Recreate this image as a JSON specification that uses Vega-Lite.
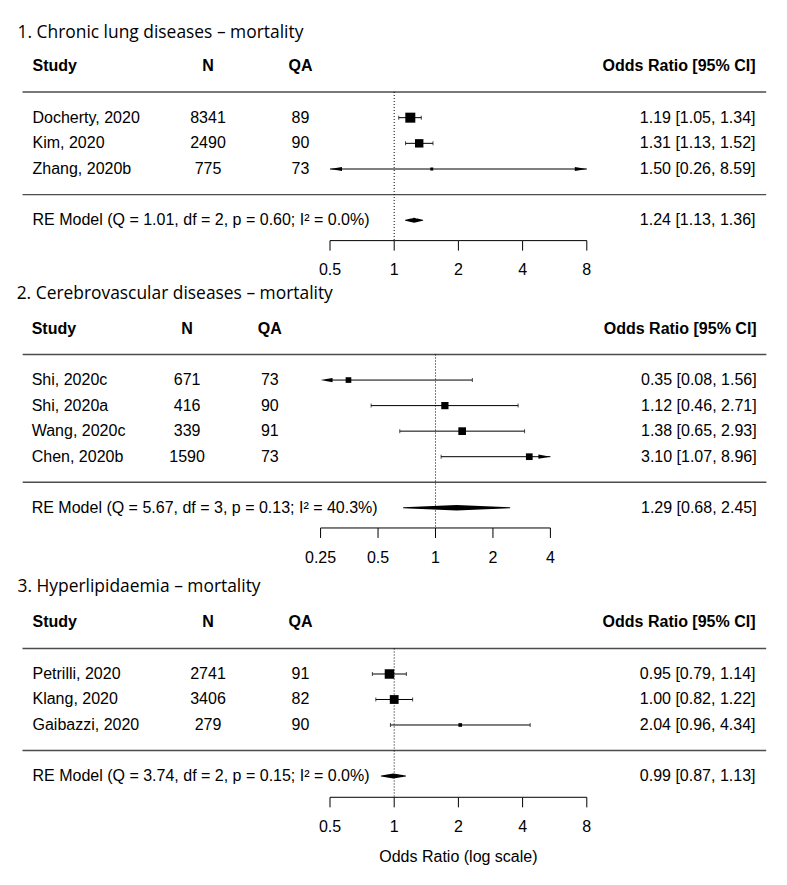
{
  "$schema": "https://vega.github.io/schema/vega-lite/v6.json",
  "background": "white",
  "padding": {"left": 16, "top": 0, "right": 0, "bottom": 0},
  "spacing": 0,
  "config": {
    "view": {"stroke": null},
    "mark": {"color": "black"},
    "text": {"font": "Liberation Sans", "fontSize": 16, "color": "black"}
  },
  "datasets": {
    "panels": [
      {"panel": 1, "title": "1. Chronic lung diseases – mortality"},
      {"panel": 2, "title": "2. Cerebrovascular diseases – mortality"},
      {"panel": 3, "title": "3. Hyperlipidaemia – mortality"}
    ],
    "studies": [
      {"panel": 1, "row": 1, "study": "Docherty, 2020", "n": "8341", "qa": "89", "or": 1.19, "lo": 1.05, "hi": 1.34, "weight": 59.4, "ci": "1.19 [1.05, 1.34]"},
      {"panel": 1, "row": 2, "study": "Kim, 2020", "n": "2490", "qa": "90", "or": 1.31, "lo": 1.13, "hi": 1.52, "weight": 40.3, "ci": "1.31 [1.13, 1.52]"},
      {"panel": 1, "row": 3, "study": "Zhang, 2020b", "n": "775", "qa": "73", "or": 1.50, "lo": 0.26, "hi": 8.59, "weight": 0.3, "ci": "1.50 [0.26, 8.59]"},
      {"panel": 2, "row": 1, "study": "Shi, 2020c", "n": "671", "qa": "73", "or": 0.35, "lo": 0.08, "hi": 1.56, "weight": 15.3, "ci": "0.35 [0.08, 1.56]"},
      {"panel": 2, "row": 2, "study": "Shi, 2020a", "n": "416", "qa": "90", "or": 1.12, "lo": 0.46, "hi": 2.71, "weight": 28.4, "ci": "1.12 [0.46, 2.71]"},
      {"panel": 2, "row": 3, "study": "Wang, 2020c", "n": "339", "qa": "91", "or": 1.38, "lo": 0.65, "hi": 2.93, "weight": 32.8, "ci": "1.38 [0.65, 2.93]"},
      {"panel": 2, "row": 4, "study": "Chen, 2020b", "n": "1590", "qa": "73", "or": 3.10, "lo": 1.07, "hi": 8.96, "weight": 23.5, "ci": "3.10 [1.07, 8.96]"},
      {"panel": 3, "row": 1, "study": "Petrilli, 2020", "n": "2741", "qa": "91", "or": 0.95, "lo": 0.79, "hi": 1.14, "weight": 52.8, "ci": "0.95 [0.79, 1.14]"},
      {"panel": 3, "row": 2, "study": "Klang, 2020", "n": "3406", "qa": "82", "or": 1.00, "lo": 0.82, "hi": 1.22, "weight": 44.9, "ci": "1.00 [0.82, 1.22]"},
      {"panel": 3, "row": 3, "study": "Gaibazzi, 2020", "n": "279", "qa": "90", "or": 2.04, "lo": 0.96, "hi": 4.34, "weight": 3.1, "ci": "2.04 [0.96, 4.34]"}
    ],
    "models": [
      {"panel": 1, "label": "RE Model (Q = 1.01, df = 2, p = 0.60; I² = 0.0%)", "est": 1.24, "lo": 1.13, "hi": 1.36, "ci": "1.24 [1.13, 1.36]"},
      {"panel": 2, "label": "RE Model (Q = 5.67, df = 3, p = 0.13; I² = 40.3%)", "est": 1.29, "lo": 0.68, "hi": 2.45, "ci": "1.29 [0.68, 2.45]"},
      {"panel": 3, "label": "RE Model (Q = 3.74, df = 2, p = 0.15; I² = 0.0%)", "est": 0.99, "lo": 0.87, "hi": 1.13, "ci": "0.99 [0.87, 1.13]"}
    ],
    "ticks": [
      {"panel": 1, "v": 0.5, "lab": "0.5"}, {"panel": 1, "v": 1, "lab": "1"}, {"panel": 1, "v": 2, "lab": "2"}, {"panel": 1, "v": 4, "lab": "4"}, {"panel": 1, "v": 8, "lab": "8"},
      {"panel": 2, "v": 0.25, "lab": "0.25"}, {"panel": 2, "v": 0.5, "lab": "0.5"}, {"panel": 2, "v": 1, "lab": "1"}, {"panel": 2, "v": 2, "lab": "2"}, {"panel": 2, "v": 4, "lab": "4"},
      {"panel": 3, "v": 0.5, "lab": "0.5"}, {"panel": 3, "v": 1, "lab": "1"}, {"panel": 3, "v": 2, "lab": "2"}, {"panel": 3, "v": 4, "lab": "4"}, {"panel": 3, "v": 8, "lab": "8"}
    ]
  },
  "vconcat": [
    {
      "width": 256.8, "height": 280,
      "layer": [
        {"data": {"name": "panels"}, "transform": [{"filter": "datum.panel == 1"}],
         "mark": {"type": "text", "align": "left", "font": "Open Sans", "fontSize": 17.4},
         "encoding": {
           "x": {"datum": 0.017127, "type": "quantitative", "scale": {"type": "log", "base": 2, "domain": [0.5, 8], "nice": false}, "axis": null},
           "y": {"datum": -2.3, "type": "quantitative", "scale": {"domain": [-3.584, 7.324], "nice": false, "zero": false, "reverse": true}, "axis": null},
           "text": {"field": "title", "type": "nominal"}}},
        {"data": {"name": "panels"}, "transform": [{"filter": "datum.panel == 1"}],
         "mark": {"type": "text", "align": "left", "fontWeight": "bold"},
         "encoding": {"x": {"datum": 0.020137, "type": "quantitative"}, "y": {"datum": -1, "type": "quantitative"}, "text": {"value": "Study"}}},
        {"data": {"name": "panels"}, "transform": [{"filter": "datum.panel == 1"}],
         "mark": {"type": "text", "align": "center", "fontWeight": "bold"},
         "encoding": {"x": {"datum": 0.13394, "type": "quantitative"}, "y": {"datum": -1, "type": "quantitative"}, "text": {"value": "N"}}},
        {"data": {"name": "panels"}, "transform": [{"filter": "datum.panel == 1"}],
         "mark": {"type": "text", "align": "center", "fontWeight": "bold"},
         "encoding": {"x": {"datum": 0.36363, "type": "quantitative"}, "y": {"datum": -1, "type": "quantitative"}, "text": {"value": "QA"}}},
        {"data": {"name": "panels"}, "transform": [{"filter": "datum.panel == 1"}],
         "mark": {"type": "text", "align": "right", "fontWeight": "bold"},
         "encoding": {"x": {"datum": 49.44, "type": "quantitative"}, "y": {"datum": -1, "type": "quantitative"}, "text": {"value": "Odds Ratio [95% CI]"}}},
        {"data": {"name": "panels"}, "transform": [{"filter": "datum.panel == 1"}],
         "mark": {"type": "tick", "orient": "horizontal", "size": 743.7, "thickness": 1.3},
         "encoding": {"x": {"datum": 1.0016, "type": "quantitative"}, "y": {"datum": 0, "type": "quantitative"}}},
        {"data": {"name": "panels"}, "transform": [{"filter": "datum.panel == 1"}],
         "mark": {"type": "tick", "orient": "horizontal", "size": 743.7, "thickness": 1.3},
         "encoding": {"x": {"datum": 1.0016, "type": "quantitative"}, "y": {"datum": 4, "type": "quantitative"}}},
        {"data": {"name": "panels"}, "transform": [{"filter": "datum.panel == 1"}],
         "mark": {"type": "rule", "strokeWidth": 1, "strokeDash": [1, 2]},
         "encoding": {"x": {"datum": 1, "type": "quantitative"}, "y": {"datum": 0, "type": "quantitative"}, "y2": {"datum": 5.79}}},
        {"data": {"name": "studies"}, "transform": [{"filter": "datum.panel == 1"}],
         "mark": {"type": "rule", "strokeWidth": 1, "clip": true},
         "encoding": {"x": {"field": "lo", "type": "quantitative"}, "x2": {"field": "hi"}, "y": {"field": "row", "type": "quantitative"}}},
        {"data": {"name": "studies"}, "transform": [{"filter": "datum.panel == 1 && datum.lo >= 0.5"}],
         "mark": {"type": "tick", "orient": "vertical", "size": 4, "thickness": 1},
         "encoding": {"x": {"field": "lo", "type": "quantitative"}, "y": {"field": "row", "type": "quantitative"}}},
        {"data": {"name": "studies"}, "transform": [{"filter": "datum.panel == 1 && datum.hi <= 8"}],
         "mark": {"type": "tick", "orient": "vertical", "size": 4, "thickness": 1},
         "encoding": {"x": {"field": "hi", "type": "quantitative"}, "y": {"field": "row", "type": "quantitative"}}},
        {"data": {"name": "studies"}, "transform": [{"filter": "datum.panel == 1 && datum.lo < 0.5"}],
         "mark": {"type": "point", "filled": true, "opacity": 1, "shape": "M0,0L2,-0.35L2,0.35Z", "size": 144},
         "encoding": {"x": {"datum": 0.5, "type": "quantitative"}, "y": {"field": "row", "type": "quantitative"}}},
        {"data": {"name": "studies"}, "transform": [{"filter": "datum.panel == 1 && datum.hi > 8"}],
         "mark": {"type": "point", "filled": true, "opacity": 1, "shape": "M0,0L-2,-0.35L-2,0.35Z", "size": 144},
         "encoding": {"x": {"datum": 8, "type": "quantitative"}, "y": {"field": "row", "type": "quantitative"}}},
        {"data": {"name": "studies"}, "transform": [{"filter": "datum.panel == 1"}],
         "mark": {"type": "square", "filled": true, "opacity": 1},
         "encoding": {"x": {"field": "or", "type": "quantitative"}, "y": {"field": "row", "type": "quantitative"},
           "size": {"field": "weight", "type": "quantitative", "scale": {"domain": [0.3, 59.4], "range": [9, 100], "zero": false}, "legend": null}}},
        {"data": {"name": "models"}, "transform": [{"filter": "datum.panel == 1"}, {"fold": ["lo", "est", "hi"]}],
         "mark": {"type": "trail"},
         "encoding": {"x": {"field": "value", "type": "quantitative"}, "y": {"datum": 5, "type": "quantitative"},
           "size": {"condition": {"test": "datum.key === 'est'", "value": 5}, "value": 0},
           "order": {"field": "value", "type": "quantitative"}}},
        {"data": {"name": "studies"}, "transform": [{"filter": "datum.panel == 1"}],
         "mark": {"type": "text", "align": "left"},
         "encoding": {"x": {"datum": 0.020137, "type": "quantitative"}, "y": {"field": "row", "type": "quantitative"}, "text": {"field": "study", "type": "nominal"}}},
        {"data": {"name": "studies"}, "transform": [{"filter": "datum.panel == 1"}],
         "mark": {"type": "text", "align": "center"},
         "encoding": {"x": {"datum": 0.13394, "type": "quantitative"}, "y": {"field": "row", "type": "quantitative"}, "text": {"field": "n", "type": "nominal"}}},
        {"data": {"name": "studies"}, "transform": [{"filter": "datum.panel == 1"}],
         "mark": {"type": "text", "align": "center"},
         "encoding": {"x": {"datum": 0.36363, "type": "quantitative"}, "y": {"field": "row", "type": "quantitative"}, "text": {"field": "qa", "type": "nominal"}}},
        {"data": {"name": "studies"}, "transform": [{"filter": "datum.panel == 1"}],
         "mark": {"type": "text", "align": "right"},
         "encoding": {"x": {"datum": 49.44, "type": "quantitative"}, "y": {"field": "row", "type": "quantitative"}, "text": {"field": "ci", "type": "nominal"}}},
        {"data": {"name": "models"}, "transform": [{"filter": "datum.panel == 1"}],
         "mark": {"type": "text", "align": "left"},
         "encoding": {"x": {"datum": 0.020137, "type": "quantitative"}, "y": {"datum": 5, "type": "quantitative"}, "text": {"field": "label", "type": "nominal"}}},
        {"data": {"name": "models"}, "transform": [{"filter": "datum.panel == 1"}],
         "mark": {"type": "text", "align": "right"},
         "encoding": {"x": {"datum": 49.44, "type": "quantitative"}, "y": {"datum": 5, "type": "quantitative"}, "text": {"field": "ci", "type": "nominal"}}},
        {"data": {"name": "ticks"}, "transform": [{"filter": "datum.panel == 1"}],
         "mark": {"type": "line", "strokeWidth": 1},
         "encoding": {"x": {"field": "v", "type": "quantitative"}, "y": {"datum": 5.79, "type": "quantitative"}}},
        {"data": {"name": "ticks"}, "transform": [{"filter": "datum.panel == 1"}],
         "mark": {"type": "rule", "strokeWidth": 1},
         "encoding": {"x": {"field": "v", "type": "quantitative"}, "y": {"datum": 5.79, "type": "quantitative"}, "y2": {"datum": 6.18}}},
        {"data": {"name": "ticks"}, "transform": [{"filter": "datum.panel == 1"}],
         "mark": {"type": "text", "align": "center"},
         "encoding": {"x": {"field": "v", "type": "quantitative"}, "y": {"datum": 6.93, "type": "quantitative"}, "text": {"field": "lab", "type": "nominal"}}}
      ]
    },
    {
      "width": 220.4, "height": 292,
      "layer": [
        {"data": {"name": "panels"}, "transform": [{"filter": "datum.panel == 2"}],
         "mark": {"type": "text", "align": "left", "font": "Open Sans", "fontSize": 17.4},
         "encoding": {
           "x": {"datum": 0.0063912, "type": "quantitative", "scale": {"type": "log", "base": 2, "domain": [0.2801, 4], "nice": false}, "axis": null},
           "y": {"datum": -2.35, "type": "quantitative", "scale": {"domain": [-2.916, 8.513], "nice": false, "zero": false, "reverse": true}, "axis": null},
           "text": {"field": "title", "type": "nominal"}}},
        {"data": {"name": "panels"}, "transform": [{"filter": "datum.panel == 2"}],
         "mark": {"type": "text", "align": "left", "fontWeight": "bold"},
         "encoding": {"x": {"datum": 0.0076629, "type": "quantitative"}, "y": {"datum": -1, "type": "quantitative"}, "text": {"value": "Study"}}},
        {"data": {"name": "panels"}, "transform": [{"filter": "datum.panel == 2"}],
         "mark": {"type": "text", "align": "center", "fontWeight": "bold"},
         "encoding": {"x": {"datum": 0.049966, "type": "quantitative"}, "y": {"datum": -1, "type": "quantitative"}, "text": {"value": "N"}}},
        {"data": {"name": "panels"}, "transform": [{"filter": "datum.panel == 2"}],
         "mark": {"type": "text", "align": "center", "fontWeight": "bold"},
         "encoding": {"x": {"datum": 0.13555, "type": "quantitative"}, "y": {"datum": -1, "type": "quantitative"}, "text": {"value": "QA"}}},
        {"data": {"name": "panels"}, "transform": [{"filter": "datum.panel == 2"}],
         "mark": {"type": "text", "align": "right", "fontWeight": "bold"},
         "encoding": {"x": {"datum": 48.16, "type": "quantitative"}, "y": {"datum": -1, "type": "quantitative"}, "text": {"value": "Odds Ratio [95% CI]"}}},
        {"data": {"name": "panels"}, "transform": [{"filter": "datum.panel == 2"}],
         "mark": {"type": "tick", "orient": "horizontal", "size": 743.7, "thickness": 1.3},
         "encoding": {"x": {"datum": 0.6101, "type": "quantitative"}, "y": {"datum": 0, "type": "quantitative"}}},
        {"data": {"name": "panels"}, "transform": [{"filter": "datum.panel == 2"}],
         "mark": {"type": "tick", "orient": "horizontal", "size": 743.7, "thickness": 1.3},
         "encoding": {"x": {"datum": 0.6101, "type": "quantitative"}, "y": {"datum": 5, "type": "quantitative"}}},
        {"data": {"name": "panels"}, "transform": [{"filter": "datum.panel == 2"}],
         "mark": {"type": "rule", "strokeWidth": 1, "strokeDash": [1, 2]},
         "encoding": {"x": {"datum": 1, "type": "quantitative"}, "y": {"datum": 0, "type": "quantitative"}, "y2": {"datum": 6.79}}},
        {"data": {"name": "studies"}, "transform": [{"filter": "datum.panel == 2"}],
         "mark": {"type": "rule", "strokeWidth": 1, "clip": true},
         "encoding": {"x": {"field": "lo", "type": "quantitative"}, "x2": {"field": "hi"}, "y": {"field": "row", "type": "quantitative"}}},
        {"data": {"name": "studies"}, "transform": [{"filter": "datum.panel == 2 && datum.lo >= 0.25"}],
         "mark": {"type": "tick", "orient": "vertical", "size": 4, "thickness": 1},
         "encoding": {"x": {"field": "lo", "type": "quantitative"}, "y": {"field": "row", "type": "quantitative"}}},
        {"data": {"name": "studies"}, "transform": [{"filter": "datum.panel == 2 && datum.hi <= 4"}],
         "mark": {"type": "tick", "orient": "vertical", "size": 4, "thickness": 1},
         "encoding": {"x": {"field": "hi", "type": "quantitative"}, "y": {"field": "row", "type": "quantitative"}}},
        {"data": {"name": "studies"}, "transform": [{"filter": "datum.panel == 2 && datum.lo < 0.25"}],
         "mark": {"type": "point", "filled": true, "opacity": 1, "shape": "M0,0L2,-0.35L2,0.35Z", "size": 144},
         "encoding": {"x": {"datum": 0.25, "type": "quantitative"}, "y": {"field": "row", "type": "quantitative"}}},
        {"data": {"name": "studies"}, "transform": [{"filter": "datum.panel == 2 && datum.hi > 4"}],
         "mark": {"type": "point", "filled": true, "opacity": 1, "shape": "M0,0L-2,-0.35L-2,0.35Z", "size": 144},
         "encoding": {"x": {"datum": 4, "type": "quantitative"}, "y": {"field": "row", "type": "quantitative"}}},
        {"data": {"name": "studies"}, "transform": [{"filter": "datum.panel == 2"}],
         "mark": {"type": "square", "filled": true, "opacity": 1},
         "encoding": {"x": {"field": "or", "type": "quantitative"}, "y": {"field": "row", "type": "quantitative"},
           "size": {"field": "weight", "type": "quantitative", "scale": {"domain": [15.3, 32.8], "range": [11, 128], "zero": false}, "legend": null}}},
        {"data": {"name": "models"}, "transform": [{"filter": "datum.panel == 2"}, {"fold": ["lo", "est", "hi"]}],
         "mark": {"type": "trail"},
         "encoding": {"x": {"field": "value", "type": "quantitative"}, "y": {"datum": 6, "type": "quantitative"},
           "size": {"condition": {"test": "datum.key === 'est'", "value": 5.5}, "value": 0},
           "order": {"field": "value", "type": "quantitative"}}},
        {"data": {"name": "studies"}, "transform": [{"filter": "datum.panel == 2"}],
         "mark": {"type": "text", "align": "left"},
         "encoding": {"x": {"datum": 0.0076629, "type": "quantitative"}, "y": {"field": "row", "type": "quantitative"}, "text": {"field": "study", "type": "nominal"}}},
        {"data": {"name": "studies"}, "transform": [{"filter": "datum.panel == 2"}],
         "mark": {"type": "text", "align": "center"},
         "encoding": {"x": {"datum": 0.049966, "type": "quantitative"}, "y": {"field": "row", "type": "quantitative"}, "text": {"field": "n", "type": "nominal"}}},
        {"data": {"name": "studies"}, "transform": [{"filter": "datum.panel == 2"}],
         "mark": {"type": "text", "align": "center"},
         "encoding": {"x": {"datum": 0.13555, "type": "quantitative"}, "y": {"field": "row", "type": "quantitative"}, "text": {"field": "qa", "type": "nominal"}}},
        {"data": {"name": "studies"}, "transform": [{"filter": "datum.panel == 2"}],
         "mark": {"type": "text", "align": "right"},
         "encoding": {"x": {"datum": 48.16, "type": "quantitative"}, "y": {"field": "row", "type": "quantitative"}, "text": {"field": "ci", "type": "nominal"}}},
        {"data": {"name": "models"}, "transform": [{"filter": "datum.panel == 2"}],
         "mark": {"type": "text", "align": "left"},
         "encoding": {"x": {"datum": 0.0076629, "type": "quantitative"}, "y": {"datum": 6, "type": "quantitative"}, "text": {"field": "label", "type": "nominal"}}},
        {"data": {"name": "models"}, "transform": [{"filter": "datum.panel == 2"}],
         "mark": {"type": "text", "align": "right"},
         "encoding": {"x": {"datum": 48.16, "type": "quantitative"}, "y": {"datum": 6, "type": "quantitative"}, "text": {"field": "ci", "type": "nominal"}}},
        {"data": {"name": "ticks"}, "transform": [{"filter": "datum.panel == 2"}],
         "mark": {"type": "line", "strokeWidth": 1},
         "encoding": {"x": {"field": "v", "type": "quantitative"}, "y": {"datum": 6.79, "type": "quantitative"}}},
        {"data": {"name": "ticks"}, "transform": [{"filter": "datum.panel == 2"}],
         "mark": {"type": "rule", "strokeWidth": 1},
         "encoding": {"x": {"field": "v", "type": "quantitative"}, "y": {"datum": 6.79, "type": "quantitative"}, "y2": {"datum": 7.18}}},
        {"data": {"name": "ticks"}, "transform": [{"filter": "datum.panel == 2"}],
         "mark": {"type": "text", "align": "center"},
         "encoding": {"x": {"field": "v", "type": "quantitative"}, "y": {"datum": 7.98, "type": "quantitative"}, "text": {"field": "lab", "type": "nominal"}}}
      ]
    },
    {
      "width": 256.8, "height": 313,
      "layer": [
        {"data": {"name": "panels"}, "transform": [{"filter": "datum.panel == 3"}],
         "mark": {"type": "text", "align": "left", "font": "Open Sans", "fontSize": 17.4},
         "encoding": {
           "x": {"datum": 0.017127, "type": "quantitative", "scale": {"type": "log", "base": 2, "domain": [0.5, 8], "nice": false}, "axis": null},
           "y": {"datum": -2.4, "type": "quantitative", "scale": {"domain": [-3.0, 9.275], "nice": false, "zero": false, "reverse": true}, "axis": null},
           "text": {"field": "title", "type": "nominal"}}},
        {"data": {"name": "panels"}, "transform": [{"filter": "datum.panel == 3"}],
         "mark": {"type": "text", "align": "left", "fontWeight": "bold"},
         "encoding": {"x": {"datum": 0.020137, "type": "quantitative"}, "y": {"datum": -1.03, "type": "quantitative"}, "text": {"value": "Study"}}},
        {"data": {"name": "panels"}, "transform": [{"filter": "datum.panel == 3"}],
         "mark": {"type": "text", "align": "center", "fontWeight": "bold"},
         "encoding": {"x": {"datum": 0.13394, "type": "quantitative"}, "y": {"datum": -1.03, "type": "quantitative"}, "text": {"value": "N"}}},
        {"data": {"name": "panels"}, "transform": [{"filter": "datum.panel == 3"}],
         "mark": {"type": "text", "align": "center", "fontWeight": "bold"},
         "encoding": {"x": {"datum": 0.36363, "type": "quantitative"}, "y": {"datum": -1.03, "type": "quantitative"}, "text": {"value": "QA"}}},
        {"data": {"name": "panels"}, "transform": [{"filter": "datum.panel == 3"}],
         "mark": {"type": "text", "align": "right", "fontWeight": "bold"},
         "encoding": {"x": {"datum": 49.44, "type": "quantitative"}, "y": {"datum": -1.03, "type": "quantitative"}, "text": {"value": "Odds Ratio [95% CI]"}}},
        {"data": {"name": "panels"}, "transform": [{"filter": "datum.panel == 3"}],
         "mark": {"type": "tick", "orient": "horizontal", "size": 743.7, "thickness": 1.3},
         "encoding": {"x": {"datum": 1.0016, "type": "quantitative"}, "y": {"datum": 0, "type": "quantitative"}}},
        {"data": {"name": "panels"}, "transform": [{"filter": "datum.panel == 3"}],
         "mark": {"type": "tick", "orient": "horizontal", "size": 743.7, "thickness": 1.3},
         "encoding": {"x": {"datum": 1.0016, "type": "quantitative"}, "y": {"datum": 4, "type": "quantitative"}}},
        {"data": {"name": "panels"}, "transform": [{"filter": "datum.panel == 3"}],
         "mark": {"type": "rule", "strokeWidth": 1, "strokeDash": [1, 2]},
         "encoding": {"x": {"datum": 1, "type": "quantitative"}, "y": {"datum": 0, "type": "quantitative"}, "y2": {"datum": 5.835}}},
        {"data": {"name": "studies"}, "transform": [{"filter": "datum.panel == 3"}],
         "mark": {"type": "rule", "strokeWidth": 1, "clip": true},
         "encoding": {"x": {"field": "lo", "type": "quantitative"}, "x2": {"field": "hi"}, "y": {"field": "row", "type": "quantitative"}}},
        {"data": {"name": "studies"}, "transform": [{"filter": "datum.panel == 3 && datum.lo >= 0.5"}],
         "mark": {"type": "tick", "orient": "vertical", "size": 4, "thickness": 1},
         "encoding": {"x": {"field": "lo", "type": "quantitative"}, "y": {"field": "row", "type": "quantitative"}}},
        {"data": {"name": "studies"}, "transform": [{"filter": "datum.panel == 3 && datum.hi <= 8"}],
         "mark": {"type": "tick", "orient": "vertical", "size": 4, "thickness": 1},
         "encoding": {"x": {"field": "hi", "type": "quantitative"}, "y": {"field": "row", "type": "quantitative"}}},
        {"data": {"name": "studies"}, "transform": [{"filter": "datum.panel == 3"}],
         "mark": {"type": "square", "filled": true, "opacity": 1},
         "encoding": {"x": {"field": "or", "type": "quantitative"}, "y": {"field": "row", "type": "quantitative"},
           "size": {"field": "weight", "type": "quantitative", "scale": {"domain": [3.1, 52.8], "range": [9, 140], "zero": false}, "legend": null}}},
        {"data": {"name": "models"}, "transform": [{"filter": "datum.panel == 3"}, {"fold": ["lo", "est", "hi"]}],
         "mark": {"type": "trail"},
         "encoding": {"x": {"field": "value", "type": "quantitative"}, "y": {"datum": 5, "type": "quantitative"},
           "size": {"condition": {"test": "datum.key === 'est'", "value": 5}, "value": 0},
           "order": {"field": "value", "type": "quantitative"}}},
        {"data": {"name": "studies"}, "transform": [{"filter": "datum.panel == 3"}],
         "mark": {"type": "text", "align": "left"},
         "encoding": {"x": {"datum": 0.020137, "type": "quantitative"}, "y": {"field": "row", "type": "quantitative"}, "text": {"field": "study", "type": "nominal"}}},
        {"data": {"name": "studies"}, "transform": [{"filter": "datum.panel == 3"}],
         "mark": {"type": "text", "align": "center"},
         "encoding": {"x": {"datum": 0.13394, "type": "quantitative"}, "y": {"field": "row", "type": "quantitative"}, "text": {"field": "n", "type": "nominal"}}},
        {"data": {"name": "studies"}, "transform": [{"filter": "datum.panel == 3"}],
         "mark": {"type": "text", "align": "center"},
         "encoding": {"x": {"datum": 0.36363, "type": "quantitative"}, "y": {"field": "row", "type": "quantitative"}, "text": {"field": "qa", "type": "nominal"}}},
        {"data": {"name": "studies"}, "transform": [{"filter": "datum.panel == 3"}],
         "mark": {"type": "text", "align": "right"},
         "encoding": {"x": {"datum": 49.44, "type": "quantitative"}, "y": {"field": "row", "type": "quantitative"}, "text": {"field": "ci", "type": "nominal"}}},
        {"data": {"name": "models"}, "transform": [{"filter": "datum.panel == 3"}],
         "mark": {"type": "text", "align": "left"},
         "encoding": {"x": {"datum": 0.020137, "type": "quantitative"}, "y": {"datum": 5, "type": "quantitative"}, "text": {"field": "label", "type": "nominal"}}},
        {"data": {"name": "models"}, "transform": [{"filter": "datum.panel == 3"}],
         "mark": {"type": "text", "align": "right"},
         "encoding": {"x": {"datum": 49.44, "type": "quantitative"}, "y": {"datum": 5, "type": "quantitative"}, "text": {"field": "ci", "type": "nominal"}}},
        {"data": {"name": "ticks"}, "transform": [{"filter": "datum.panel == 3"}],
         "mark": {"type": "line", "strokeWidth": 1},
         "encoding": {"x": {"field": "v", "type": "quantitative"}, "y": {"datum": 5.835, "type": "quantitative"}}},
        {"data": {"name": "ticks"}, "transform": [{"filter": "datum.panel == 3"}],
         "mark": {"type": "rule", "strokeWidth": 1},
         "encoding": {"x": {"field": "v", "type": "quantitative"}, "y": {"datum": 5.835, "type": "quantitative"}, "y2": {"datum": 6.23}}},
        {"data": {"name": "ticks"}, "transform": [{"filter": "datum.panel == 3"}],
         "mark": {"type": "text", "align": "center"},
         "encoding": {"x": {"field": "v", "type": "quantitative"}, "y": {"datum": 7.0, "type": "quantitative"}, "text": {"field": "lab", "type": "nominal"}}},
        {"data": {"name": "panels"}, "transform": [{"filter": "datum.panel == 3"}],
         "mark": {"type": "text", "align": "center"},
         "encoding": {"x": {"datum": 2, "type": "quantitative"}, "y": {"datum": 8.16, "type": "quantitative"}, "text": {"value": "Odds Ratio (log scale)"}}}
      ]
    }
  ]
}
